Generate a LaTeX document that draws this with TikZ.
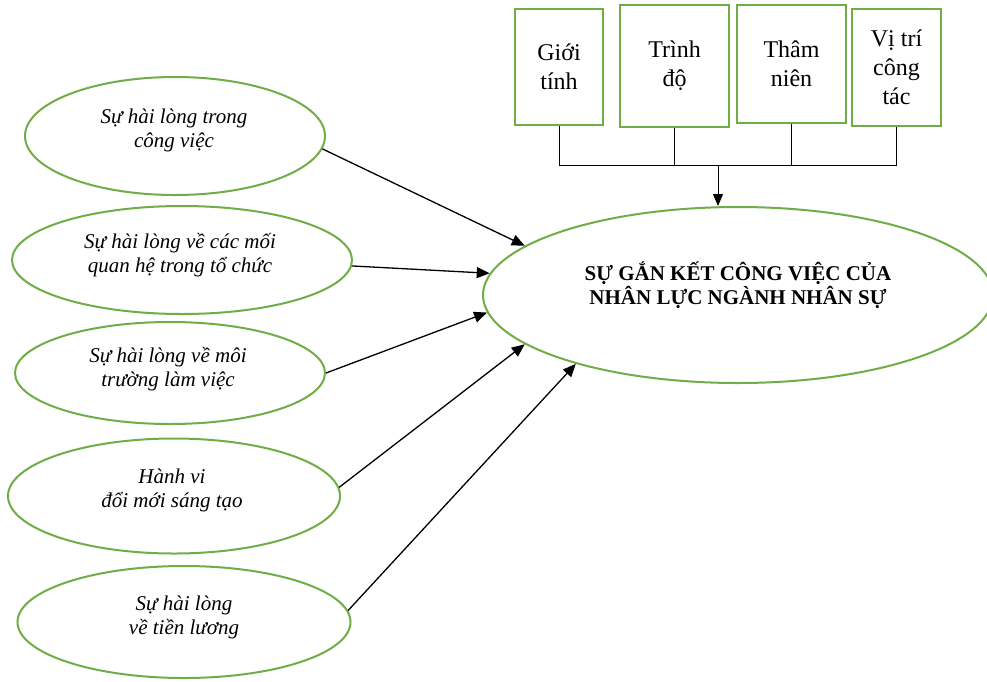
\documentclass[tikz,border=0pt]{standalone}
\usepackage{fontspec}
\setmainfont{Liberation Serif}
\usetikzlibrary{shapes.geometric,arrows.meta}
\definecolor{wgreen}{RGB}{112,173,71}
\tikzset{
  ell/.style={ellipse, draw=wgreen, line width=2pt, inner sep=0pt},
  elltext/.style={align=center, font=\fontsize{21}{24}\selectfont\itshape},
  bigtext/.style={align=center, font=\fontsize{21}{24}\selectfont\bfseries},
  fbox/.style={rectangle, draw=wgreen, line width=2.2pt, inner sep=0pt, align=center, font=\fontsize{24}{29}\selectfont},
  conn/.style={line width=1pt, black},
  arr/.style={line width=1.3pt, black, -{Triangle[length=13pt,width=11pt]}}
}
\begin{document}
\begin{tikzpicture}[x=1pt,y=-1pt]
\useasboundingbox[fill=white] (0,0) rectangle (987,681);
% factor boxes
\node[fbox, minimum width=88pt, minimum height=116pt] (b1) at (559,67) {Giới\\tính};
\node[fbox, minimum width=109pt, minimum height=122pt] (b2) at (674.5,66) {Trình\\độ};
\node[fbox, minimum width=109pt, minimum height=118pt] (b3) at (791.5,64) {Thâm\\niên};
\node[fbox, minimum width=89pt, minimum height=117pt] (b4) at (896.5,67.5) {Vị trí\\công\\tác};
% big ellipse
\node[ell, minimum width=510pt, minimum height=176pt] (big) at (738,295) {};
\node[bigtext] (bigt) at (738,285) {SỰ GẮN KẾT CÔNG VIỆC CỦA\\NHÂN LỰC NGÀNH NHÂN SỰ};
% left ellipses
\node[ell, minimum width=300pt, minimum height=118pt] (e1) at (175,136) {};
\node[elltext] (t1) at (174,130) {Sự hài lòng trong\\công việc};
\node[ell, minimum width=340pt, minimum height=108pt] (e2) at (182,260) {};
\node[elltext] (t2) at (180,255) {Sự hài lòng về các mối\\quan hệ trong tổ chức};
\node[ell, minimum width=310pt, minimum height=102pt] (e3) at (170,373) {};
\node[elltext] (t3) at (168,369) {Sự hài lòng về môi\\trường làm việc};
\node[ell, minimum width=332pt, minimum height=115pt] (e4) at (174,496) {};
\node[elltext] (t4) at (172,490) {Hành vi\\đổi mới sáng tạo};
\node[ell, minimum width=333pt, minimum height=112pt] (e5) at (184,622) {};
\node[elltext] (t5) at (184,617) {Sự hài lòng\\về tiền lương};
% connector tree
\coordinate (j) at (718,165);
\draw[conn] (b1.south) -- (b1.south |- j);
\draw[conn] (b2.south) -- (b2.south |- j);
\draw[conn] (b3.south) -- (b3.south |- j);
\draw[conn] (b4.south) -- (b4.south |- j);
\draw[conn] (b1.south |- j) -- (b4.south |- j);
\draw[conn, -{Triangle[length=12pt,width=10pt]}] (j) -- (j |- big.north);
% arrows
\draw[arr] (e1.-5.9) -- (big.167);
\draw[arr] (e2.-2.1) -- (big.175.9);
\draw[arr] (e3.-0.7) -- (big.184.6);
\draw[arr] (e4.3.1) -- (big.193);
\draw[arr] (e5.4.2) -- (big.203);
\end{tikzpicture}
\end{document}
